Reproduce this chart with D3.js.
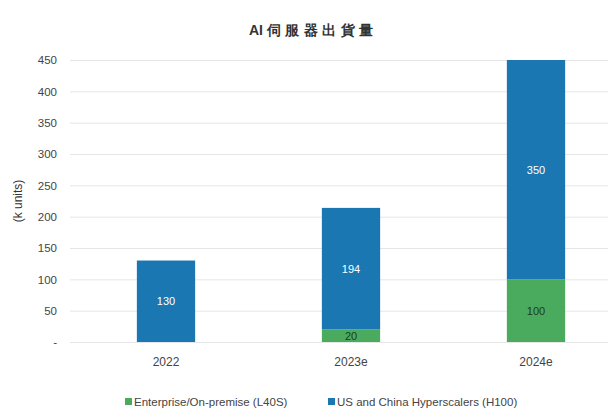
<!DOCTYPE html>
<html><head><meta charset="utf-8">
<script src="https://cdn.jsdelivr.net/npm/d3@7"></script>
<style>body{margin:0;background:#fff}text{font-family:"Liberation Sans",Arial,sans-serif}</style>
</head><body><svg id="c" width="614" height="412"></svg>
<script>
const categories = ["2022", "2023e", "2024e"];
const enterprise = [0, 20, 100];
const hyperscalers = [130, 194, 350];
const yTicks = [0, 50, 100, 150, 200, 250, 300, 350, 400, 450];
const seriesNames = ["Enterprise/On-premise (L40S)", "US and China Hyperscalers (H100)"];
const colors = ["#4aab5e", "#1a77b2"];

const svg = d3.select("#c");
const W = 614;
const x = d3.scaleBand().domain(categories).range([73.5, 628.5]).paddingInner(0.685).paddingOuter(0.3425);
const y = d3.scaleLinear().domain([0, 450]).range([342, 60]);

const title = svg.append("text").attr("x", 249).attr("y", 35)
  .attr("font-size", 14).attr("font-weight", "bold").attr("fill", "#333");
title.append("tspan").text("AI ");
title.append("tspan").attr("letter-spacing", 4.5).text("伺服器出貨量");

const ya = d3.axisLeft(y).tickValues(yTicks).tickSize(-(W - 6 - 70)).tickFormat(d => d === 0 ? "-" : d);
const g = svg.append("g").attr("transform", "translate(70,0)").call(ya);
g.select(".domain").remove();
g.selectAll(".tick line").attr("stroke", "#e6e6e6");
g.selectAll(".tick text").attr("x", -13).attr("font-size", 11.5).attr("fill", "#444");

svg.append("text").attr("transform", "translate(22,201) rotate(-90)").attr("text-anchor", "middle")
  .attr("font-size", 12).attr("fill", "#333").text("(k units)");

const xa = d3.axisBottom(x).tickSize(0);
const gx = svg.append("g").attr("transform", "translate(0,342)").call(xa);
gx.select(".domain").remove();
gx.selectAll(".tick text").attr("dy", "1.75em").attr("font-size", 12).attr("fill", "#444");

const data = categories.map((c, i) => ({cat: c, enterprise: enterprise[i], hyperscalers: hyperscalers[i]}));
const stack = d3.stack().keys(["enterprise", "hyperscalers"])(data);
stack.forEach((s, si) => {
  svg.append("g").selectAll("rect").data(s).join("rect")
    .attr("x", d => x(d.data.cat)).attr("width", x.bandwidth())
    .attr("y", d => y(d[1])).attr("height", d => y(d[0]) - y(d[1]))
    .attr("fill", colors[si]);
  svg.append("g").selectAll("text").data(s.filter(d => d[1] - d[0] > 0)).join("text")
    .attr("x", d => x(d.data.cat) + x.bandwidth() / 2)
    .attr("y", d => y((d[0] + d[1]) / 2) + 4)
    .attr("text-anchor", "middle").attr("font-size", 11)
    .attr("fill", si === 0 ? "#1d3b22" : "#fff").text(d => d[1] - d[0]);
});

const leg = svg.append("g");
const lx = [125, 328];
seriesNames.forEach((n, i) => {
  leg.append("rect").attr("x", lx[i]).attr("y", 398).attr("width", 7).attr("height", 7).attr("fill", colors[i]);
  leg.append("text").attr("x", lx[i] + 9).attr("y", 405.5).attr("font-size", 11.5).attr("fill", "#444").text(n);
});
</script></body></html>
